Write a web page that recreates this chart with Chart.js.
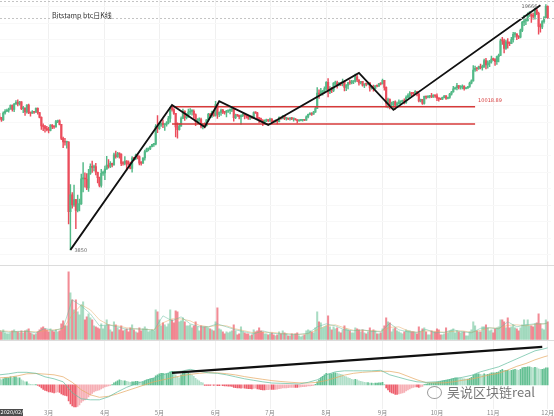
<!DOCTYPE html>
<html><head><meta charset="utf-8">
<script src="https://cdn.jsdelivr.net/npm/chart.js@4.4.0/dist/chart.umd.min.js"></script>
<style>
html,body{margin:0;padding:0;background:#fff;}
#wrap{position:relative;width:554px;height:416px;overflow:hidden;background:#fff;}
canvas{position:absolute;left:0;top:0;}
#wm{position:absolute;left:447px;top:382px;font:13px 'Noto Sans CJK SC',sans-serif;color:rgba(85,85,85,.8);white-space:nowrap;}
#logo{position:absolute;left:427px;top:386px;width:13px;height:11px;border:1.5px solid rgba(120,120,120,.75);border-radius:50%;}
</style></head>
<body><div id="wrap"><canvas id="c" width="554" height="416"></canvas><div id="logo"></div><div id="wm">吴说区块链real</div></div>
<script>
// day index counted from 2020-03-01 (day 0); first candle is 2020-02-03
const FIRST_DAY = -27;
const firstOpen = 9350;
const closes = [
 9293,9181,9617,9729,9795,9865,10116,9856,10208,10326,10214,10363,9900,9934,9690,10141,9634,9608,9686,9663,9924,9650,9341,8820,8784,8672,8599,
 8562,8869,8787,8755,9078,9122,8909,8108,7923,7909,7911,4970,5563,5200,5392,5014,5225,5238,6191,6198,6186,5830,6416,6734,6681,6716,6469,6242,5922,6429,6438,
 6606,6793,6733,6867,6791,7271,7176,7334,7302,6865,6859,6971,6845,6842,6642,7116,7096,7257,7189,6881,6880,7117,7429,7550,7569,7679,7795,7807,8801,8658,
 8864,8988,8897,8912,9003,9268,9951,9842,9593,8756,8601,8804,9269,9733,9328,9377,9670,9726,9729,9523,9081,9182,9210,8790,8906,8835,9181,9525,9439,9700,9461,
 10167,9529,9656,9800,9665,9653,9758,9771,9795,9870,9321,9480,9475,9386,9450,9538,9480,9411,9288,9332,9303,9648,9629,9313,9264,9162,9045,9143,9190,9138,
 9232,9086,9058,9135,9073,9342,9253,9428,9277,9278,9240,9276,9243,9243,9192,9132,9151,9159,9185,9164,9374,9525,9581,9536,9677,9905,10990,10912,11100,11111,11323,
 11802,11071,11219,11191,11744,11762,11594,11754,11675,11878,11410,11584,11784,11768,11865,11892,12254,11991,11758,11878,11592,11681,11664,11774,11366,11488,11324,11542,11506,11711,11680,
 11970,11414,10245,10511,10169,10280,10370,10131,10242,10363,10400,10443,10323,10680,10796,10974,10949,10944,11095,10920,10418,10535,10247,10746,10693,10740,10776,10710,10845,10785,
 10620,10571,10550,10676,10793,10604,10668,10915,11064,11296,11384,11555,11426,11430,11505,11322,11359,11483,11742,11917,12823,12965,12931,13108,13031,13076,13654,13271,13437,13547,13781,
 13737,13550,14023,14145,15590,15579,14818,15475,15328,15297,15701,16276,16317,16068,15955,16716,17645,17804,17817,18621,18642,18370,18364,19107,18732,17150,17108,17717,18177,19625,
 18150
];
const highs = [
 9590,9340,9690,9840,9870,9940,10150,10160,10260,10450,10500,10390,10380,10050,9960,10170,10200,9680,9770,9700,9960,9960,9660,9370,8950,8860,8790,
 8740,8900,8900,8840,9160,9170,9190,8910,8180,8120,7970,7950,5960,5650,5940,5400,5550,5410,6390,6900,6450,6410,6600,6840,6970,6790,6870,6480,6260,6600,6520,
 6740,7200,7040,6950,6880,7350,7460,7390,7370,7320,6950,7190,6990,6980,6930,7180,7150,7310,7280,7220,6950,7140,7500,7600,7600,7710,7800,7810,8900,9460,
 9000,9000,9180,8950,9080,9400,9980,10040,9900,9600,9000,8960,9370,9880,9750,9580,9880,9910,9840,9820,9560,9260,9310,9300,8980,9010,9200,9600,9600,9740,9700,
 10400,10210,9690,9880,9850,9730,9790,9790,9890,9970,9940,9550,9500,9490,9500,9580,9560,9480,9420,9390,9420,9700,9690,9660,9320,9300,9200,9190,9230,9200,
 9290,9270,9130,9190,9140,9370,9360,9450,9440,9300,9290,9320,9340,9270,9270,9210,9180,9190,9220,9210,9430,9540,9640,9640,9720,10000,11390,11230,11340,11170,11450,
 11860,12100,11470,11420,11780,11900,11900,11800,11800,12060,11940,11630,11800,11990,11960,11930,12480,12370,12020,11890,11880,11690,11710,11820,11790,11530,11590,11560,11590,11720,11770,
 12070,11960,11460,10630,10580,10350,10400,10430,10350,10500,10420,10480,10570,10790,10940,11100,11040,11050,11180,11090,10990,10560,10540,10770,10760,10780,10800,10960,10860,10850,
 10930,10650,10600,10690,10800,10800,10690,10960,11110,11500,11440,11720,11560,11560,11610,11540,11400,11490,11820,12010,13200,13170,13020,13160,13330,13240,13790,13860,13630,13670,14080,
 13880,13830,14060,14250,15770,15960,15770,15650,15830,15480,15950,16480,16480,16320,16140,16860,17760,18470,18120,18800,18950,18680,18750,19390,19480,18900,17450,17850,18330,19850,
 19700
];
const lows = [
 9230,9090,9150,9540,9700,9670,9860,9730,9710,10200,10080,10130,9830,9630,9470,9600,9580,9420,9590,9590,9650,9540,9300,8620,8540,8460,8530,
 8420,8530,8660,8680,8750,9010,8880,8050,7630,7750,7600,4580,3850,5090,5150,4440,4960,5000,5220,5670,5860,5760,5690,6380,6460,6530,6360,6030,5870,5860,6330,
 6160,6600,6650,6670,6700,6780,7110,7150,7110,6760,6780,6800,6560,6780,6620,6470,6990,7040,7070,6800,6790,6860,7020,7410,7460,7520,7660,7690,7770,8430,
 8620,8790,8720,8560,8800,8940,9050,9730,9530,8200,8130,8580,8800,9260,9150,9250,9340,9520,9480,9290,8830,8940,9090,8710,8640,8700,8810,9110,9350,9330,9400,
 9420,9270,9380,9460,9580,9540,9370,9650,9560,9700,9110,9260,9400,9240,8920,9390,9250,9290,9210,9190,9270,9280,9590,9200,9020,9050,8840,9000,9070,9080,
 9080,8950,9030,9050,8940,9060,9220,9240,9200,9160,9190,9160,9200,9110,9160,9000,9090,9120,9110,9140,9150,9300,9490,9460,9530,9650,9900,10600,10860,10840,10980,
 11230,10700,10950,11010,11090,11580,11360,11530,11550,11520,11150,11160,11290,11650,11690,11700,11820,11850,11580,11680,11510,11390,11520,11600,11120,11270,11130,11290,11450,11480,11600,
 11680,11200,10000,9950,9880,10010,9900,9850,10080,10200,10200,10320,10220,10260,10640,10680,10760,10810,10900,10780,10360,10350,10180,10200,10570,10640,10630,10650,10670,10680,
 10450,10400,10510,10520,10630,10530,10560,10600,10840,11060,11280,11230,11300,11280,11300,11200,11300,11350,11420,11680,11900,12700,12750,12880,12920,12800,13060,12920,12980,13120,13430,
 13650,13230,13300,13540,14100,15200,14360,14720,14840,15090,15280,15440,15980,15700,15800,15880,16560,17240,17360,17760,18350,17620,18000,18020,18570,16300,16520,16900,17530,18180,
 18100
];
const volumes = [
 9,8,10,7,6,6,7,9,10,8,8,7,9,7,9,10,11,7,6,5,6,8,10,12,13,11,10,
 8,11,9,8,10,8,9,16,19,14,14,68,47,40,30,40,28,25,35,38,20,23,26,22,20,14,13,12,11,16,11,
 14,20,15,10,8,18,15,12,10,14,9,10,11,8,12,15,10,8,7,12,9,11,13,11,8,9,10,9,30,28,
 20,14,17,15,13,16,30,20,17,29,28,18,19,22,18,14,14,15,12,14,18,13,9,14,13,13,13,12,11,10,9,
 18,32,11,10,8,6,8,7,8,9,15,9,5,6,13,8,7,6,6,4,5,10,8,9,12,9,8,6,6,5,
 6,7,5,4,5,8,6,9,7,6,4,4,6,5,6,7,4,3,4,5,9,10,9,8,7,12,28,18,17,12,13,
 14,24,13,10,13,11,12,8,7,10,14,11,10,9,7,7,12,11,10,8,10,7,6,8,12,9,10,9,6,6,7,
 11,14,22,18,17,8,11,12,9,8,7,6,8,10,9,9,8,8,7,6,13,8,11,12,8,5,5,9,8,8,
 11,10,5,5,6,12,7,9,10,11,7,9,8,7,8,8,4,4,8,10,18,14,9,8,8,13,13,15,12,9,10,
 7,11,12,13,20,20,18,12,22,12,13,15,12,11,9,12,15,20,15,20,14,14,13,16,17,26,16,11,10,20,
 18
];
const macdHist = [
 6,5,6,7,7,7,8,7,8,8,7,7,5,4,3,3,1,0.5,0.3,0.2,0.3,-0.5,-1.5,-3,-4.5,-5.5,-6,
 -7,-7,-7.5,-8,-7.5,-7,-7.5,-9,-10,-10.5,-11,-16,-19,-21,-22,-22,-21.5,-20,-17.5,-16,-15,-14,-12,-10,-8.5,-7,-6,-5.5,-5,-4,-3,
 -2,-1.5,-1,-0.5,0.3,2,3,4,5,4.5,4,4,3.5,3,2.5,3,3,3.5,3.5,3,2.5,3,4,5,5.5,6,6.5,6.5,9,10,
 11,11.5,11.5,11,11,11.5,13,13.5,13,10,8,7,10,12,12.5,12,12,11,10,8.5,6.5,5,4,2.5,2,-0.5,-0.5,-0.5,-0.6,-0.4,-0.5,
 -0.3,-0.8,-0.8,-0.7,-0.8,-1,-1.2,-1.3,-1.4,-1.5,-2.5,-2.8,-3,-3.2,-3.3,-3.2,-3.3,-3.5,-3.8,-3.9,-4,-3.5,-3.4,-4,-4.4,-4.8,-5,-5,-4.9,-4.8,
 -4.6,-4.7,-4.7,-4.5,-4.4,-3.8,-3.6,-3.2,-3.1,-3,-2.9,-2.7,-2.6,-2.5,-2.5,-2.5,-2.3,-2.1,-1.9,-1.8,-1.5,-1.2,-1,-0.8,-0.5,0.5,3,5,7,8.5,10,
 11.5,11,11,11,12,12,11.5,11,10.5,10,8.5,8,7,6.5,5.5,5,5.5,5,4,3.5,3,2.5,2.2,2.2,1.8,1.8,1.6,1.8,1.8,2,2,
 2.5,0.5,-3,-5,-7,-8,-8.5,-9.5,-9.5,-9,-8.5,-8,-7.5,-6,-5,-4,-3,-2.5,-2,-2,-2.5,-2,-1.5,0.3,0.8,1.2,1.5,1.7,2,2.2,
 2.5,3,3.5,4,4.5,4.8,5,5.5,6,6.5,7,7,6.8,6.5,6.3,6,5.8,5.8,6.5,7.5,9.5,10.5,11,11,10.5,10,11,10.5,10.5,11,12,
 12,12,12.5,13,14.5,15.5,14.5,14.5,14.5,14,14.5,15,15.5,15,14.5,15.5,17,17.5,17.5,18,18,17.5,17,17.5,17,16,15.5,15.5,16,17,
 17
];
const sampleDays = [-27,-22,-17,-12,-7,-2,3,8,13,18,23,28,33,38,43,48,53,58,63,68,73,78,83,88,93,98,103,108,113,118,123,128,133,138,143,148,153,158,163,168,173,178,183,188,193,198,203,208,213,218,223,228,233,238,243,248,253,258,263,268,273,275];
const difLine = [10,11,12.5,12.5,11.5,8,6,3,-8,-14,-15,-15,-12,-7,-2.5,1,4,7,10,13,13.5,15.5,13.5,12,11.5,10,8,6,4.5,3,1.8,1.5,1.2,0.8,2.5,5,10,13,14,14,14,14,14.5,10,7.5,5,3,2.5,3,4,6,7.5,9.5,13,15.5,18,22,26,30,34,36,37];
const deaLine = [7,7.5,9,11,11.3,10.7,10,8,2.5,-5,-10,-12.5,-11.5,-9,-6,-3,0,3,5,7,9,10.5,11.5,12.2,11.9,11.1,9.9,8.2,6.8,5.5,4.2,3.3,2.6,2,1.8,2.5,4.3,7,9.7,11.5,12.5,13.1,13.5,13.5,12,8.5,5,2.2,2,2,3,4.5,5.8,7.8,10,11.5,14.8,18.5,21.3,25,28,29];
const volMA5 = [9,7.5,8.5,8.5,7,11.5,9,12,40,34,26,14,15,13,10.5,11,10.5,9.5,24,19,23,16,13,13,16,13,10,8,6,9,6.5,6,5.5,5.5,6.5,13,16,14,10,9,10,8.5,8,16.5,10,8,7.5,10.5,7,7.5,10,8,7,11.5,12,11,18,13,15,16,16,17];
const volMA10 = [9,8.5,8,8.5,8,9,10,11,25,35,30,20,15,14,12,11,10.5,10,17,21,21,19,14.5,13,14.5,14,11,9,7,7.5,7.5,6.5,6,5.5,6,10,14,15,12,9.5,9.5,9,8.5,12.5,13,9,7.5,9,8.5,7.5,8.5,9,7.5,9.5,12,11.5,14.5,15,14,15.5,16,16.5];
const monthStarts = [0,31,61,92,122,153,184,214,245,275];
const monthLabels = ['3月','4月','5月','6月','7月','8月','9月','10月','11月','12月'];
const gridPrices = [3723,4160,4646,5190,5797,6475,7233,8079,9024,10080,11260,12577,14049,15693,17529,19580];
const trendPath = [[12,3850],[68,10150],[86,8760],[94,10400],[121,8880],[171,12570],[190,9820],[271,19770]];
const boxTop = 10018.89, boxBottom = 8930, boxFrom = 68, boxTo = 235;
const macdTrend = [[68,12],[272,38]];
const titleText = 'Bitstamp btc日K线';
const lowLabel = '3850', highLabel = '19666', boxLabel = '10018.89', cursorDate = '2020/02/03';

const UP = '#53b987', DOWN = '#eb4d5c';
const days = closes.map((_, i) => FIRST_DAY + i);
const opens = [firstOpen, ...closes.slice(0, -1)];
const isUp = closes.map((c, i) => c >= opens[i]);
const candleColors = isUp.map(u => u ? UP : DOWN);
const volColors = isUp.map(u => u ? 'rgba(83,185,135,0.5)' : 'rgba(235,77,92,0.65)');
const histColors = macdHist.map((h, i) => {
  const prev = i ? macdHist[i - 1] : h;
  if (h >= 0) return h >= prev ? 'rgba(83,185,135,0.9)' : 'rgba(83,185,135,0.45)';
  return h <= prev ? 'rgba(235,77,92,0.9)' : 'rgba(235,77,92,0.45)';
});
const pts = (xs, ys) => xs.map((d, i) => ({x: d, y: ys[i]}));

const overlay = {
  id: 'overlay',
  afterDatasetsDraw(chart) {
    const {ctx} = chart; const s = chart.scales;
    const X = v => s.x.getPixelForValue(v), Y = v => s.y.getPixelForValue(v);
    ctx.save();
    ctx.strokeStyle = '#dcdcdc'; ctx.lineWidth = 1;
    for (const p of [s.yv.top, s.ym.top]) {
      const yy = Math.round(p) + 0.5;
      ctx.beginPath(); ctx.moveTo(0, yy); ctx.lineTo(chart.width, yy); ctx.stroke();
    }
    ctx.strokeStyle = '#c4c4c4'; ctx.setLineDash([2, 2]);
    const lp = Math.round(Y(closes[closes.length - 1])) + 0.5;
    ctx.beginPath(); ctx.moveTo(0, lp); ctx.lineTo(chart.width, lp); ctx.stroke();
    ctx.beginPath(); ctx.moveTo(0, 1.5); ctx.lineTo(chart.width, 1.5); ctx.stroke();
    ctx.setLineDash([]);
    ctx.textBaseline = 'middle';
    ctx.font = "7px 'Noto Sans CJK SC', sans-serif"; ctx.fillStyle = '#333';
    ctx.fillText(titleText, 52, 15);
    ctx.font = "5px 'DejaVu Sans', sans-serif"; ctx.fillStyle = '#666';
    ctx.fillText(lowLabel, X(trendPath[0][0]) + 4, Y(trendPath[0][1]) + 1);
    const hp = trendPath[trendPath.length - 1];
    ctx.textAlign = 'right';
    ctx.fillText(highLabel, X(hp[0]) - 3, Y(hp[1]) + 1);
    ctx.textAlign = 'left'; ctx.fillStyle = '#d63a3a';
    ctx.fillText(boxLabel, X(boxTo) + 3, Y(boxTop) - 6);
    ctx.fillStyle = '#4b4b4b'; ctx.fillRect(0, 409, 23, 7);
    ctx.fillStyle = '#fff'; ctx.font = "5px 'DejaVu Sans', sans-serif";
    ctx.fillText(cursorDate, 0.5, 412.5);
    ctx.restore();
  }
};

const lineDs = (data, color, width, axis, order) => ({
  type: 'line', data, yAxisID: axis, borderColor: color, borderWidth: width,
  pointRadius: 0, tension: 0, fill: false, order
});

new Chart(document.getElementById('c'), {
  type: 'bar',
  data: {
    datasets: [
      lineDs(trendPath.map(p => ({x: p[0], y: p[1]})), '#111', 1.8, 'y', 0),
      lineDs([{x: boxFrom, y: boxTop}, {x: boxTo, y: boxTop}], '#d63a3a', 1.5, 'y', 1),
      lineDs([{x: boxFrom, y: boxBottom}, {x: boxTo, y: boxBottom}], '#d63a3a', 1.5, 'y', 1),
      lineDs(macdTrend.map(p => ({x: p[0], y: p[1]})), '#111', 2.2, 'ym', 0),
      lineDs(pts(sampleDays, difLine), 'rgba(100,190,160,0.9)', 0.8, 'ym', 2),
      lineDs(pts(sampleDays, deaLine), 'rgba(230,170,100,0.9)', 0.8, 'ym', 2),
      lineDs(pts(sampleDays, volMA5), 'rgba(100,190,160,0.7)', 0.7, 'yv', 2),
      lineDs(pts(sampleDays, volMA10), 'rgba(230,170,100,0.7)', 0.7, 'yv', 2),
      {type: 'bar', data: days.map((d, i) => ({x: d, y: [opens[i], closes[i]]})), yAxisID: 'y',
       backgroundColor: candleColors, barThickness: 1.5, minBarLength: 1, grouped: false, order: 4},
      {type: 'bar', data: days.map((d, i) => ({x: d, y: [lows[i], highs[i]]})), yAxisID: 'y',
       backgroundColor: candleColors, barThickness: 0.8, grouped: false, order: 5},
      {type: 'bar', data: pts(days, volumes), yAxisID: 'yv',
       backgroundColor: volColors, barThickness: 1.4, grouped: false, order: 6},
      {type: 'bar', data: pts(days, macdHist), yAxisID: 'ym',
       backgroundColor: histColors, barThickness: 1, grouped: false, order: 6}
    ]
  },
  options: {
    responsive: false, animation: false, devicePixelRatio: 1,
    layout: {padding: 0, autoPadding: false},
    plugins: {legend: {display: false}, tooltip: {enabled: false}},
    scales: {
      x: {type: 'linear', min: -26.8, max: 276.7, offset: false, position: 'bottom',
          grid: {color: '#f0f0f0', drawTicks: false, offset: false}, border: {display: false},
          ticks: {font: {size: 6, family: "'Noto Sans CJK SC', sans-serif"}, color: '#888', padding: 0, maxRotation: 0, autoSkip: false,
                  callback: v => { const i = monthStarts.indexOf(v); return i < 0 ? '' : monthLabels[i]; }},
          afterBuildTicks: sc => { sc.ticks = monthStarts.map(v => ({value: v})); }},
      y: {type: 'logarithmic', position: 'right', stack: 'panes', stackWeight: 265, min: 3483, max: 20474,
          grid: {color: '#f8f8f8', drawTicks: false}, border: {display: false}, ticks: {display: false},
          afterBuildTicks: sc => { sc.ticks = gridPrices.map(v => ({value: v})); },
          afterFit: sc => { sc.width = 0; }},
      yv: {type: 'linear', position: 'right', stack: 'panes', stackWeight: 75, min: 0, max: 75,
          grid: {display: false}, border: {display: false}, ticks: {display: false},
          afterFit: sc => { sc.width = 0; }},
      ym: {type: 'linear', position: 'right', stack: 'panes', stackWeight: 69, min: -24, max: 45,
          grid: {display: false}, border: {display: false}, ticks: {display: false},
          afterFit: sc => { sc.width = 0; }}
    }
  },
  plugins: [overlay]
});
</script></body></html>
